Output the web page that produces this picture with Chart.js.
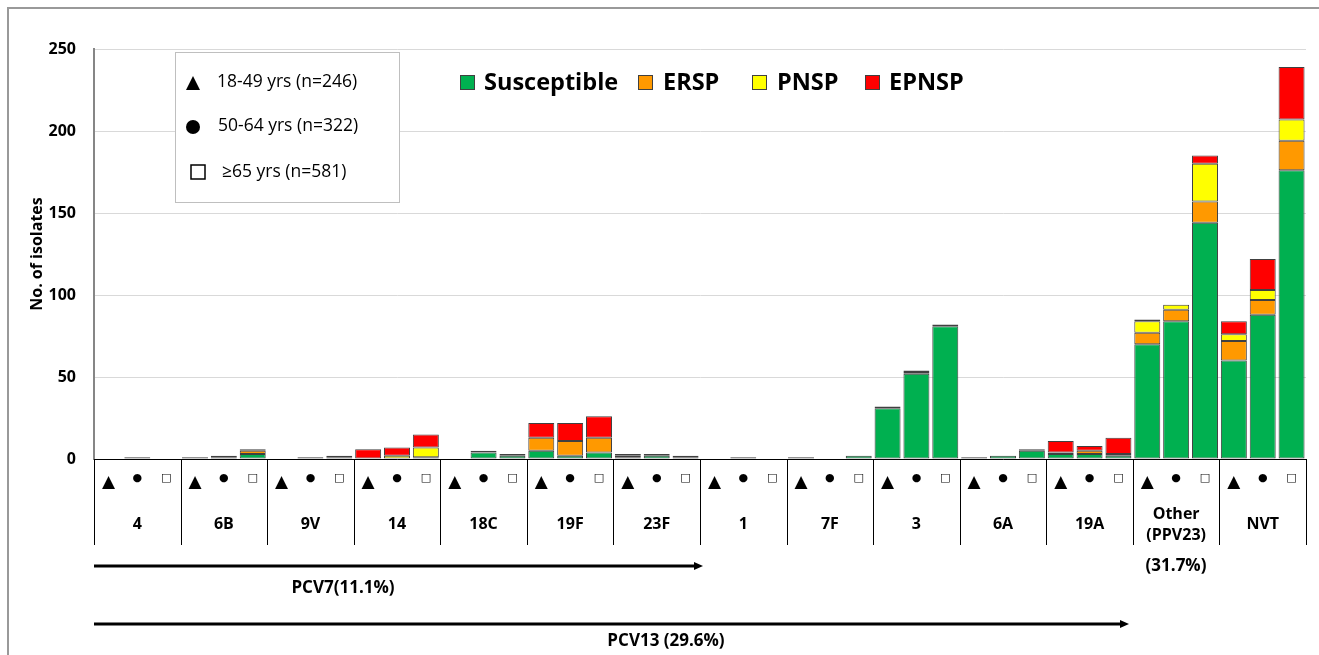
<!DOCTYPE html>
<html>
<head>
<meta charset="utf-8">
<script src="https://cdn.jsdelivr.net/npm/chart.js@4"></script>
<style>
  html, body { margin: 0; padding: 0; background: #fff; }
  canvas { display: block; }
</style>
</head>
<body>
<canvas id="isolatesChart" width="1319" height="655"></canvas>
<script>
// serotype groups, three age groups per serotype
const serotypes = ['4', '6B', '9V', '14', '18C', '19F', '23F', '1', '7F', '3', '6A', '19A', ['Other', '(PPV23)'], 'NVT'];
const ageSymbols = ['\u25B2', '\u25CF', '\u25A1'];
const ageLabels = ['18-49 yrs (n=246)', '50-64 yrs (n=322)', '\u226565 yrs (n=581)'];

// values per bar: serotype order, then 18-49 / 50-64 / >=65
const susceptible = [0, 1, 0,  0, 1, 3,  0, 0, 1,  0, 0, 0,  0, 4, 2,  5, 2, 4,  1, 2, 1,
                     0, 1, 0,  1, 0, 2,  31, 52, 81,  1, 2, 5,  3, 3, 2,  70, 84, 144,  60, 88, 176];
const ersp        = [0, 0, 0,  1, 1, 2,  0, 0, 1,  0, 0, 1,  0, 0, 0,  8, 9, 9,  1, 0, 1,
                     0, 0, 0,  0, 0, 0,  1, 1, 1,  0, 0, 1,  1, 2, 1,  7, 7, 13,  12, 9, 18];
const pnsp        = [0, 0, 0,  0, 0, 1,  0, 0, 0,  0, 2, 6,  0, 0, 0,  0, 0, 0,  0, 1, 0,
                     0, 0, 0,  0, 0, 0,  0, 0, 0,  0, 0, 0,  0, 0, 0,  7, 3, 23,  4, 6, 13];
const epnsp       = [0, 0, 0,  0, 0, 0,  0, 1, 0,  6, 5, 8,  0, 1, 1,  9, 11, 13,  1, 0, 0,
                     0, 0, 0,  0, 0, 0,  0, 1, 0,  0, 0, 0,  7, 3, 10,  1, 0, 5,  8, 19, 32];

const yTicks = [0, 50, 100, 150, 200, 250];

const seriesNames = ['Susceptible', 'ERSP', 'PNSP', 'EPNSP'];
const seriesColors = ['#00b050', '#ff9900', '#ffff00', '#ff0000'];

const labels = [];
serotypes.forEach(() => ageSymbols.forEach(s => labels.push(s)));

const boldFont = '"Open Sans", "DejaVu Sans", sans-serif';

const tablePlugin = {
  id: 'tablePlugin',
  beforeDraw(chart) {
    const ctx = chart.ctx;
    ctx.save();
    ctx.fillStyle = '#fff';
    ctx.fillRect(0, 0, chart.width, chart.height);
    ctx.restore();
  },
  afterDraw(chart) {
    const ctx = chart.ctx;
    const xs = chart.scales.x;
    const area = chart.chartArea;
    ctx.save();

    // outer frame
    ctx.strokeStyle = '#999';
    ctx.lineWidth = 2;
    ctx.beginPath();
    ctx.moveTo(8, chart.height);
    ctx.lineTo(8, 8);
    ctx.lineTo(chart.width, 8);
    ctx.stroke();

    // table lines under the axis
    const slot = (xs.getPixelForValue(1) - xs.getPixelForValue(0));
    ctx.strokeStyle = '#000';
    ctx.lineWidth = 1;
    for (let g = 0; g <= serotypes.length; g++) {
      const x = Math.round(xs.getPixelForValue(g * 3) - slot / 2) + 0.5;
      ctx.beginPath();
      ctx.moveTo(x, area.bottom);
      ctx.lineTo(x, 545);
      ctx.stroke();
    }

    // serotype names
    ctx.fillStyle = '#000';
    ctx.font = 'bold 16px ' + boldFont;
    ctx.textAlign = 'center';
    ctx.textBaseline = 'middle';
    serotypes.forEach((name, g) => {
      const cx = xs.getPixelForValue(g * 3 + 1);
      if (Array.isArray(name)) {
        ctx.fillText(name[0], cx, 514);
        ctx.fillText(name[1], cx, 535);
      } else {
        ctx.fillText(name, cx, 524);
      }
    });

    // vaccine coverage arrows
    const arrow = (x0, x1, y) => {
      ctx.strokeStyle = '#000';
      ctx.lineWidth = 3;
      ctx.beginPath();
      ctx.moveTo(x0, y);
      ctx.lineTo(x1 - 6, y);
      ctx.stroke();
      ctx.fillStyle = '#000';
      ctx.beginPath();
      ctx.moveTo(x1, y);
      ctx.lineTo(x1 - 9, y - 4);
      ctx.lineTo(x1 - 9, y + 4);
      ctx.closePath();
      ctx.fill();
    };
    arrow(94, 703, 566);
    arrow(94, 1129, 624);
    ctx.font = 'bold 17px ' + boldFont;
    ctx.fillText('PCV7(11.1%)', 343, 588);
    ctx.fillText('PCV13 (29.6%)', 666, 641);
    ctx.fillText('(31.7%)', 1176, 566);

    // resistance legend
    const boxX = [460, 638, 752, 865];
    const textX = [484, 663, 777, 889];
    ctx.font = 'bold 23.5px ' + boldFont;
    ctx.textAlign = 'left';
    seriesNames.forEach((name, i) => {
      ctx.fillStyle = seriesColors[i];
      ctx.fillRect(boxX[i], 75, 14, 14);
      ctx.strokeStyle = '#404040';
      ctx.lineWidth = 1;
      ctx.strokeRect(boxX[i] + 0.5, 75.5, 14, 14);
      ctx.fillStyle = '#000';
      ctx.fillText(name, textX[i], 83);
    });

    // age group legend box
    ctx.fillStyle = '#fff';
    ctx.fillRect(175, 52, 224, 150);
    ctx.strokeStyle = '#bfbfbf';
    ctx.lineWidth = 1;
    ctx.strokeRect(175.5, 52.5, 224, 150);
    ctx.fillStyle = '#000';
    ctx.beginPath();
    ctx.moveTo(193, 76);
    ctx.lineTo(200, 90);
    ctx.lineTo(186, 90);
    ctx.closePath();
    ctx.fill();
    ctx.beginPath();
    ctx.arc(193, 127, 7, 0, Math.PI * 2);
    ctx.fill();
    ctx.strokeStyle = '#000';
    ctx.lineWidth = 1.5;
    ctx.strokeRect(191, 165, 14, 14);
    ctx.font = '17.5px "Open Sans", sans-serif';
    ctx.fillText(ageLabels[0], 217, 82);
    ctx.fillText(ageLabels[1], 218, 126);
    ctx.fillText(ageLabels[2], 222, 172);

    ctx.restore();
  }
};

new Chart(document.getElementById('isolatesChart'), {
  type: 'bar',
  data: {
    labels: labels,
    datasets: [susceptible, ersp, pnsp, epnsp].map((values, i) => ({
      label: seriesNames[i],
      data: values,
      backgroundColor: seriesColors[i],
      borderColor: '#404040',
      borderWidth: 1,
      borderSkipped: false,
      barPercentage: 0.9,
      categoryPercentage: 1
    }))
  },
  options: {
    responsive: false,
    animation: false,
    layout: { padding: { left: 0, top: 49, right: 13, bottom: 0 } },
    plugins: {
      legend: { display: false },
      tooltip: { enabled: false }
    },
    scales: {
      x: {
        stacked: true,
        grid: { display: false, drawTicks: false },
        border: { color: '#000', width: 1 },
        ticks: {
          autoSkip: false,
          maxRotation: 0,
          padding: 13,
          color: '#000',
          font: (c) => ({ family: '"DejaVu Sans", sans-serif', size: c.index % 3 === 0 ? 17 : 11 })
        },
        afterFit: (s) => { s.height = 196; }
      },
      y: {
        stacked: true,
        min: 0,
        max: 250,
        afterBuildTicks: (s) => { s.ticks = yTicks.map(v => ({ value: v })); },
        grid: { color: '#d9d9d9', drawTicks: false },
        border: { color: '#868686', width: 2 },
        ticks: {
          padding: 18,
          color: '#000',
          font: { family: boldFont, size: 16, weight: 'bold' }
        },
        title: {
          display: true,
          text: 'No. of isolates',
          color: '#000',
          padding: { top: 28, bottom: 0 },
          font: { family: boldFont, size: 16, weight: 'bold' }
        },
        afterFit: (s) => { s.width = 94; }
      }
    }
  },
  plugins: [tablePlugin]
});
</script>
</body>
</html>
